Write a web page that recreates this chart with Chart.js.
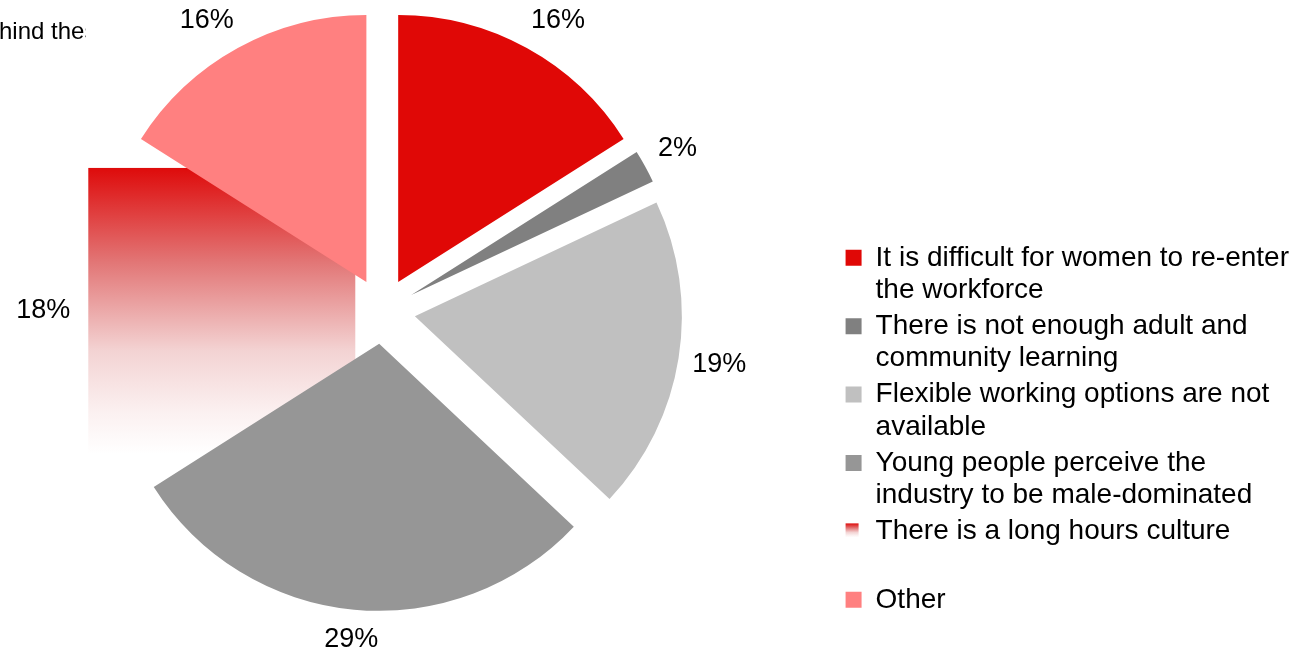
<!DOCTYPE html>
<html>
<head>
<meta charset="utf-8">
<script src="https://cdn.jsdelivr.net/npm/chart.js@4.4.0/dist/chart.umd.min.js"></script>
<style>
  html, body { margin: 0; padding: 0; background: #fff; }
  #wrap { width: 1303px; height: 648px; }
</style>
</head>
<body>
<div id="wrap"><canvas id="pie" width="1303" height="648"></canvas></div>
<script>
// Chart data
const categories = [
  ["It is difficult for women to re-enter", "the workforce"],
  ["There is not enough adult and", "community learning"],
  ["Flexible working options are not", "available"],
  ["Young people perceive the", "industry to be male-dominated"],
  ["There is a long hours culture", ""],
  ["Other"]
];
const shares = [16, 2, 19, 29, 18, 16];
const titleFragment = "hind these";

// Styles
const FONT = "'Liberation Sans', Arial, sans-serif";
const sliceColors = ["#E00806", "#808080", "#C0C0C0", "#969696", "rgba(0,0,0,0)", "#FF8080"];
const FADE_INDEX = 4;          // slice painted with the red-to-white fade
const EXPLODE = 33;            // how far every slice is pulled out
const explodeDraw = [33, 33, 33, 33, 27, 33];
const LABEL_MIN_Y = 21;

function fadeGradient(ctx, top, bottom) {
  const g = ctx.createLinearGradient(0, top, 0, bottom);
  g.addColorStop(0, "#DE0B0B");
  g.addColorStop(0.33, "#E27676");
  g.addColorStop(0.64, "#F3D3D3");
  g.addColorStop(0.85, "#FBF0F0");
  g.addColorStop(1, "#FFFFFF");
  return g;
}

function geom(arc, d) {
  const p = arc.getProps(["x", "y", "startAngle", "endAngle", "outerRadius"], true);
  const mid = (p.startAngle + p.endAngle) / 2;
  return Object.assign(p, { mid: mid, cx: p.x + Math.cos(mid) * d, cy: p.y + Math.sin(mid) * d });
}

const explodedPie = {
  id: "explodedPie",
  afterLayout(chart, args, opts) {
    // push the legend column over to the right side of the page
    chart.legend.left += opts.legendShift;
    chart.legend.right += opts.legendShift;
  },
  beforeDatasetDraw(chart, args) {
    const ctx = chart.ctx;
    const arcs = args.meta.data;

    // the faded slice shows up as its bounding box, underneath the others
    const f = geom(arcs[FADE_INDEX], explodeDraw[FADE_INDEX]);
    const angles = [f.startAngle, f.endAngle];
    for (let k = Math.ceil(f.startAngle / (Math.PI / 2)); k * Math.PI / 2 <= f.endAngle; k++) {
      angles.push(k * Math.PI / 2);
    }
    const xs = [f.cx], ys = [f.cy];
    angles.forEach(function(a) {
      xs.push(f.cx + Math.cos(a) * f.outerRadius);
      ys.push(f.cy + Math.sin(a) * f.outerRadius);
    });
    const left = Math.min.apply(null, xs), right = Math.max.apply(null, xs);
    const top = Math.min.apply(null, ys), bottom = Math.max.apply(null, ys);
    ctx.save();
    ctx.fillStyle = fadeGradient(ctx, top, bottom);
    ctx.fillRect(left, top, right - left, bottom - top);
    ctx.restore();

    arcs.forEach(function(arc, i) {
      if (i === FADE_INDEX) return;
      const g = geom(arc, explodeDraw[i]);
      ctx.save();
      ctx.translate(g.cx - g.x, g.cy - g.y);
      arc.draw(ctx);
      ctx.restore();
    });
    return false;
  },
  afterDatasetsDraw(chart) {
    const ctx = chart.ctx;
    const arcs = chart.getDatasetMeta(0).data;
    ctx.save();
    ctx.font = "27px " + FONT;
    ctx.fillStyle = "#000";
    ctx.textAlign = "center";
    ctx.textBaseline = "middle";
    arcs.forEach(function(arc, i) {
      const g = geom(arc, EXPLODE);
      const txt = shares[i] + "%";
      const hw = ctx.measureText(txt).width / 2, hh = 16;
      const dx = Math.cos(g.mid), dy = Math.sin(g.mid);
      const dist = g.outerRadius + 12 + hw * Math.abs(dx) + hh * Math.abs(dy);
      let lx = g.cx + dx * dist, ly = g.cy + dy * dist;
      // keep top labels inside the plot: slide them round the circle
      if (ly < LABEL_MIN_Y) {
        const r = Math.hypot(lx - g.x, ly - g.y);
        const off = LABEL_MIN_Y - g.y;
        lx = g.x + Math.sign(dx) * Math.sqrt(Math.max(r * r - off * off, 0));
        ly = LABEL_MIN_Y;
      }
      ctx.fillText(txt, lx, ly);
    });
    ctx.restore();
  },
  afterDraw(chart) {
    const ctx = chart.ctx;
    // legend marker for the faded slice
    const hb = chart.legend.legendHitBoxes[FADE_INDEX];
    if (hb) {
      const y0 = hb.top + (28 - 16) / 2;
      ctx.save();
      ctx.fillStyle = fadeGradient(ctx, y0, y0 + 14);
      ctx.fillRect(hb.left, y0, 13, 14);
      ctx.restore();
    }
    // clipped title fragment in the corner
    ctx.save();
    ctx.beginPath();
    ctx.rect(0, 0, 86, 60);
    ctx.clip();
    ctx.font = "24px " + FONT;
    ctx.fillStyle = "#000";
    ctx.textBaseline = "alphabetic";
    ctx.fillText(titleFragment, -1, 39);
    ctx.restore();
  }
};

new Chart(document.getElementById("pie"), {
  type: "pie",
  data: {
    labels: categories,
    datasets: [{
      data: shares,
      backgroundColor: sliceColors,
      borderWidth: 0,
      hoverOffset: 0,
      radius: 267
    }]
  },
  options: {
    responsive: false,
    devicePixelRatio: 1,
    animation: false,
    events: [],
    radius: 267,
    layout: { padding: { left: 0, top: 0, right: 81, bottom: 26 } },
    plugins: {
      tooltip: { enabled: false },
      explodedPie: { legendShift: 77 },
      legend: {
        position: "right",
        align: "end",
        labels: {
          color: "#000",
          font: { family: FONT, size: 28, lineHeight: 1.15 },
          boxWidth: 16,
          boxHeight: 16,
          padding: 4
        }
      }
    }
  },
  plugins: [explodedPie]
});
</script>
</body>
</html>
